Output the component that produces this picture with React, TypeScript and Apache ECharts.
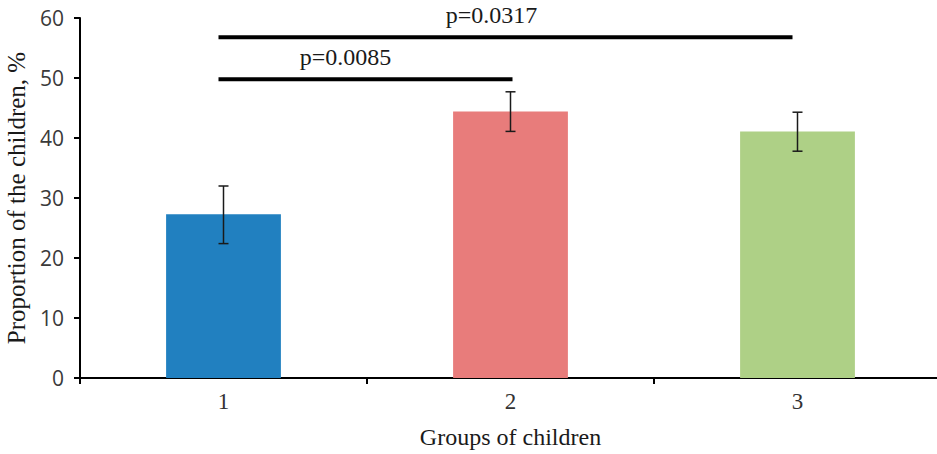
import React, { useEffect, useRef } from "react";
import * as echarts from "echarts";

const categories = ["1", "2", "3"];
const means = [27.3, 44.4, 41.1];
const errLow = [22.4, 41.1, 37.8];
const errHigh = [32.0, 47.7, 44.3];
const barColors = ["#2180c0", "#e87c7b", "#aed086"];
const comparisons: [number, number, number, string][] = [
  [0, 1, 49.8, "p=0.0085"],
  [0, 2, 56.8, "p=0.0317"],
];
const yTicks = { min: 0, max: 60, interval: 10 };

export default function App() {
  const ref = useRef<HTMLDivElement>(null);
  useEffect(() => {
    if (!ref.current) return;
    const chart = echarts.init(ref.current, null, { renderer: "svg" });
    const font = "Liberation Serif";
    chart.setOption({
      animation: false,
      grid: {
        left: 80,
        top: 18,
        width: 861,
        height: 360,
        containLabel: false,
        outerBoundsMode: "none",
      },
      xAxis: {
        type: "category",
        data: categories,
        name: "Groups of children",
        nameLocation: "middle",
        nameGap: 47,
        nameTextStyle: { fontFamily: font, fontSize: 24, color: "#1a1a1a" },
        axisLine: { lineStyle: { color: "#000", width: 2 } },
        axisTick: { show: true, length: 6, lineStyle: { color: "#000", width: 2 } },
        axisLabel: { fontFamily: font, fontSize: 23, color: "#333", margin: 12 },
      },
      yAxis: {
        type: "value",
        min: yTicks.min,
        max: yTicks.max,
        interval: yTicks.interval,
        name: "Proportion of the children, %",
        nameLocation: "middle",
        nameGap: 48,
        nameTextStyle: { fontFamily: font, fontSize: 25, color: "#1a1a1a" },
        axisLine: { show: true, lineStyle: { color: "#000", width: 2 } },
        axisTick: { show: true, length: 6, lineStyle: { color: "#000", width: 2 } },
        axisLabel: { fontFamily: "Open Sans", fontSize: 21, color: "#3a3a3a", margin: 16 },
        splitLine: { show: false },
      },
      series: [
        {
          type: "bar",
          barWidth: "40%",
          data: means.map((v, i) => ({ value: v, itemStyle: { color: barColors[i] } })),
          z: 1,
        },
        {
          type: "custom",
          z: 5,
          data: categories.map((_, i) => [i, errLow[i], errHigh[i]]),
          renderItem: (params: any, api: any) => {
            const lo = api.coord([api.value(0), api.value(1)]);
            const hi = api.coord([api.value(0), api.value(2)]);
            const cap = 5;
            const style = { stroke: "#1a1a1a", lineWidth: 1.5 };
            return {
              type: "group",
              children: [
                { type: "line", shape: { x1: lo[0], y1: lo[1], x2: hi[0], y2: hi[1] }, style },
                { type: "line", shape: { x1: lo[0] - cap, y1: lo[1], x2: lo[0] + cap, y2: lo[1] }, style },
                { type: "line", shape: { x1: hi[0] - cap, y1: hi[1], x2: hi[0] + cap, y2: hi[1] }, style },
              ],
            };
          },
        },
        {
          type: "custom",
          z: 6,
          data: comparisons.map((c) => [c[0], c[1], c[2], c[3]]),
          renderItem: (params: any, api: any) => {
            const a = api.coord([api.value(0), api.value(2)]);
            const b = api.coord([api.value(1), api.value(2)]);
            const idx = params.dataIndex;
            const label = comparisons[idx][3];
            const far = api.value(1) === 2;
            const x1 = a[0] - 5;
            const x2 = b[0] + (far ? -5 : 2);
            return {
              type: "group",
              children: [
                {
                  type: "line",
                  shape: { x1, y1: a[1], x2, y2: b[1] },
                  style: { stroke: "#000", lineWidth: 4 },
                },
                {
                  type: "text",
                  x: (x1 + x2) / 2 - (far ? 14 : 20),
                  y: a[1] - 10,
                  style: {
                    text: label,
                    fontFamily: font,
                    fontSize: 24,
                    fill: "#1a1a1a",
                    align: "center",
                    verticalAlign: "bottom",
                  },
                },
              ],
            };
          },
        },
      ],
    });
    return () => chart.dispose();
  }, []);
  return (
    <div
      ref={ref}
      style={{ position: "fixed", left: 0, top: 0, width: 937, height: 454, background: "#fff" }}
    />
  );
}
